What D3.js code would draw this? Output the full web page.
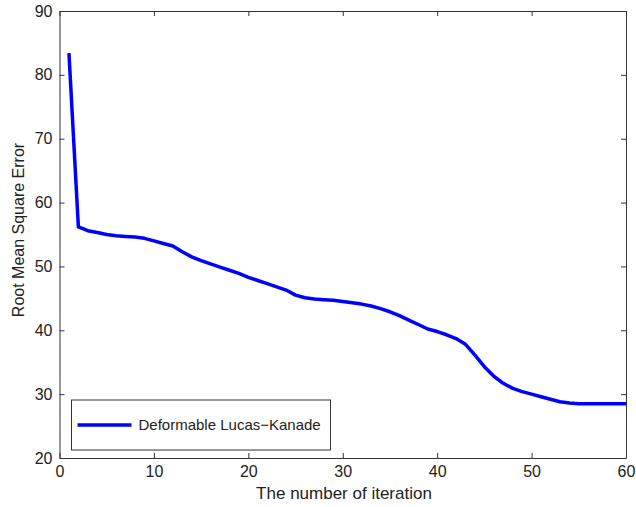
<!DOCTYPE html>
<html>
<head>
<meta charset="utf-8">
<script src="https://cdn.jsdelivr.net/npm/d3@7"></script>
<style>
  body { margin: 0; background: #fff; }
  text { font-family: 'Liberation Sans', Arial, sans-serif; fill: #222; }
</style>
</head>
<body>
<div class="chart"></div>
<script>
const iterations = d3.range(1, 61)
const rmse = [
  83.4, 56.2, 55.6, 55.3, 55.0, 54.8, 54.7, 54.6, 54.4, 54.0,
  53.6, 53.2, 52.3, 51.5, 50.9, 50.4, 49.9, 49.4, 48.9, 48.3,
  47.8, 47.3, 46.8, 46.3, 45.5, 45.1, 44.9, 44.8, 44.7, 44.5,
  44.3, 44.1, 43.8, 43.4, 42.9, 42.3, 41.6, 40.9, 40.2, 39.8,
  39.3, 38.7, 37.8, 36.1, 34.3, 32.8, 31.7, 30.9, 30.4, 30.0,
  29.6, 29.2, 28.8, 28.6, 28.5, 28.5, 28.5, 28.5, 28.5, 28.5,
]
const xTicks = [0, 10, 20, 30, 40, 50, 60]
const yTicks = [20, 30, 40, 50, 60, 70, 80, 90]
const seriesName = 'Deformable Lucas\u2212Kanade'

const W = 636, H = 507
const margin = { top: 11, right: 10, bottom: 49, left: 59.5 }
const width = W - margin.left - margin.right
const height = H - margin.top - margin.bottom

const svg = d3.select('.chart').append('svg')
  .attr('width', W).attr('height', H)

const g = svg.append('g')
  .attr('transform', `translate(${margin.left},${margin.top})`)

const x = d3.scaleLinear().domain([0, 60]).range([0, width])
const y = d3.scaleLinear().domain([20, 90]).range([height, 0])

// axes, matlab style: box with inward ticks on all sides
const styleAxis = sel => {
  sel.select('.domain').attr('stroke', '#333')
  sel.selectAll('.tick line').attr('stroke', '#333')
  sel.selectAll('.tick text').attr('font-size', 16).attr('fill', '#222')
}

g.append('g')
  .attr('transform', `translate(0,${height})`)
  .call(d3.axisBottom(x).tickValues(xTicks).tickSizeInner(-5).tickSizeOuter(0).tickPadding(8))
  .call(styleAxis)

g.append('g')
  .call(d3.axisLeft(y).tickValues(yTicks).tickSizeInner(-5).tickSizeOuter(0).tickPadding(7))
  .call(styleAxis)

g.append('g')
  .call(d3.axisTop(x).tickValues(xTicks).tickSizeInner(-5).tickSizeOuter(0).tickFormat(''))
  .call(styleAxis)

g.append('g')
  .attr('transform', `translate(${width},0)`)
  .call(d3.axisRight(y).tickValues(yTicks).tickSizeInner(-5).tickSizeOuter(0).tickFormat(''))
  .call(styleAxis)

const line = d3.line()
  .x((d, i) => x(iterations[i]))
  .y(d => y(d))

g.append('path')
  .datum(rmse)
  .attr('fill', 'none')
  .attr('stroke', '#0000ff')
  .attr('stroke-width', 3.5)
  .attr('stroke-linejoin', 'round')
  .attr('d', line)

// labels
svg.append('text')
  .attr('x', 344)
  .attr('y', 499)
  .attr('text-anchor', 'middle')
  .attr('font-size', 17)
  .text('The number of iteration')

svg.append('text')
  .attr('transform', 'translate(24,230) rotate(-90)')
  .attr('text-anchor', 'middle')
  .attr('font-size', 16)
  .text('Root Mean Square Error')

// legend
const legend = g.append('g').attr('transform', `translate(12,${height - 58})`)
legend.append('rect')
  .attr('width', 259).attr('height', 50)
  .attr('fill', '#fff').attr('stroke', '#333')
legend.append('line')
  .attr('x1', 6).attr('x2', 60).attr('y1', 25).attr('y2', 25)
  .attr('stroke', '#0000ff').attr('stroke-width', 3.5)
legend.append('text')
  .attr('x', 67).attr('y', 30)
  .attr('font-size', 15)
  .text(seriesName)
</script>
</body>
</html>
